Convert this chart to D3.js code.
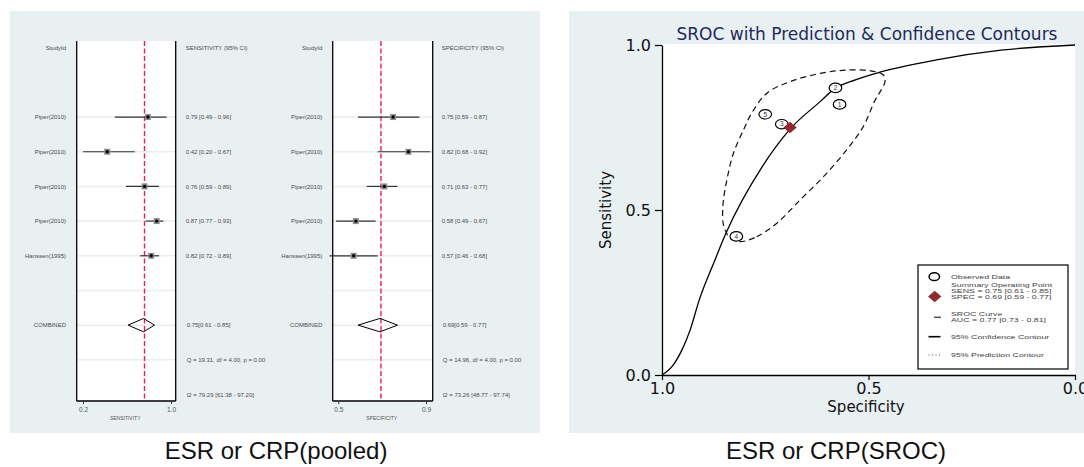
<!DOCTYPE html>
<html>
<head>
<meta charset="utf-8">
<script src="https://cdn.jsdelivr.net/npm/d3@7"></script>
<style>
body { margin: 0; background: #fff; }
svg { display: block; }
</style>
</head>
<body>
<svg id="canvas" width="1084" height="467"></svg>
<script>
// Datos del forest plot
const estudios = ["Piper(2010)", "Piper(2010)", "Piper(2010)", "Piper(2010)", "Hanssen(1995)"];
const sens = [0.79, 0.42, 0.76, 0.87, 0.82];
const sensInf = [0.49, 0.20, 0.59, 0.77, 0.72];
const sensSup = [0.96, 0.67, 0.89, 0.93, 0.89];
const espec = [0.75, 0.82, 0.71, 0.58, 0.57];
const especInf = [0.59, 0.68, 0.63, 0.49, 0.46];
const especSup = [0.87, 0.92, 0.77, 0.67, 0.68];
const sensGlobal = [0.75, 0.61, 0.85];
const especGlobal = [0.69, 0.59, 0.77];
const sensEstad = ["Q = 19.31, df = 4.00, p = 0.00", "I2 = 79.29 [61.38 - 97.20]"];
const especEstad = ["Q = 14.96, df = 4.00, p = 0.00", "I2 = 73.26 [48.77 - 97.74]"];
const sensTicks = [0.2, 1.0];
const especTicks = [0.5, 0.9];

// Datos del SROC
const etiquetasSroc = ["5", "4", "3", "2", "1"];
const curvaEspec = [1.0, 0.973, 0.948, 0.932, 0.91, 0.872, 0.845, 0.758, 0.69, 0.613, 0.586, 0.53, 0.468, 0.335, 0.174, 0.0];
const curvaSens = [0.0, 0.03, 0.086, 0.136, 0.227, 0.348, 0.43, 0.63, 0.745, 0.833, 0.864, 0.895, 0.919, 0.955, 0.985, 1.0];
const contornoEspec = [0.811, 0.771, 0.722, 0.666, 0.609, 0.553, 0.513, 0.484, 0.472, 0.46, 0.464, 0.496, 0.553, 0.617, 0.69, 0.746, 0.783, 0.803, 0.827, 0.843, 0.852, 0.852, 0.843, 0.835];
const contornoSens = [0.404, 0.419, 0.46, 0.53, 0.601, 0.682, 0.752, 0.833, 0.858, 0.889, 0.909, 0.922, 0.924, 0.914, 0.889, 0.854, 0.793, 0.742, 0.672, 0.591, 0.52, 0.46, 0.429, 0.414];
const rocTicks = [0, 0.5, 1];
const leyenda = [
    { tipo: "circulo", lineas: ["Observed Data"] },
    { tipo: "diamante", lineas: ["Summary Operating Point", "SENS = 0.75 [0.61 - 0.85]", "SPEC = 0.69 [0.59 - 0.77]"] },
    { tipo: "curva", lineas: ["SROC Curve", "AUC = 0.77 [0.73 - 0.81]"] },
    { tipo: "confianza", lineas: ["95% Confidence Contour"] },
    { tipo: "prediccion", lineas: ["95% Prediction Contour"] }
];

const svg = d3.select("#canvas");
const fondo = "#e9f0f2";
const fmt = d3.format(".2f");
const fuenteChica = "'Liberation Sans', Arial, sans-serif";

// Paneles de fondo
svg.append("rect").attr("x", 10).attr("y", 11).attr("width", 530).attr("height", 422).attr("fill", fondo);
svg.append("rect").attr("x", 569).attr("y", 11).attr("width", 515).attr("height", 422).attr("fill", fondo);

// Filas del forest plot
const fila = d3.scaleLinear().domain([0, 10]).range([47.7, 394.5]);

function dibujarForest(cfg) {
    const g = svg.append("g");
    const x = d3.scaleLinear().domain(cfg.dominio).range(cfg.rango);
    const arriba = 41, abajo = 401;

    g.append("rect")
        .attr("x", cfg.cajaIzq).attr("y", arriba)
        .attr("width", cfg.cajaDer - cfg.cajaIzq).attr("height", abajo - arriba)
        .attr("fill", "#fff");

    // Líneas tenues de cada fila
    d3.range(2, 10).forEach(i => {
        g.append("line")
            .attr("x1", cfg.cajaIzq).attr("x2", cfg.cajaDer)
            .attr("y1", fila(i)).attr("y2", fila(i))
            .attr("stroke", "#e6eef0").attr("stroke-width", 1.5);
    });

    // Línea del estimador global
    g.append("line")
        .attr("x1", x(cfg.global[0]) + 1).attr("x2", x(cfg.global[0]) + 1)
        .attr("y1", arriba).attr("y2", abajo)
        .attr("stroke", "#ec1c5a").attr("stroke-width", 1.4)
        .attr("stroke-dasharray", "5,2.5");

    // Intervalos y marcadores
    cfg.est.forEach((v, i) => {
        const y = fila(i + 2);
        g.append("line")
            .attr("x1", x(cfg.inf[i])).attr("x2", x(cfg.sup[i]))
            .attr("y1", y).attr("y2", y)
            .attr("stroke", "#333").attr("stroke-width", 1.2);
        g.append("rect")
            .attr("x", x(v) - 3).attr("y", y - 3)
            .attr("width", 6).attr("height", 6)
            .attr("fill", "#8c8c8c");
        g.append("circle")
            .attr("cx", x(v)).attr("cy", y).attr("r", 1.7)
            .attr("fill", "#000");
    });

    // Diamante combinado
    const yc = fila(8);
    g.append("path")
        .attr("d", `M${x(cfg.global[1])},${yc} L${x(cfg.global[0])},${yc - 6.7} L${x(cfg.global[2])},${yc} L${x(cfg.global[0])},${yc + 6.7} Z`)
        .attr("fill", "none").attr("stroke", "#000").attr("stroke-width", 1);

    // Bordes de la caja
    [cfg.cajaIzq, cfg.cajaDer].forEach(bx => {
        g.append("line")
            .attr("x1", bx).attr("x2", bx).attr("y1", arriba).attr("y2", abajo)
            .attr("stroke", "#000").attr("stroke-width", 1.3);
    });
    g.append("line")
        .attr("x1", cfg.cajaIzq).attr("x2", cfg.cajaDer).attr("y1", abajo).attr("y2", abajo)
        .attr("stroke", "#000").attr("stroke-width", 1.3);

    // Eje inferior
    const eje = g.append("g")
        .attr("transform", `translate(0,${abajo})`)
        .call(d3.axisBottom(x).tickValues(cfg.ticks).tickFormat(d3.format(".1f")).tickSize(3).tickSizeOuter(0).tickPadding(3));
    eje.select(".domain").remove();
    eje.selectAll("line").attr("stroke", "#333");
    eje.selectAll("text").attr("font-family", fuenteChica).attr("font-size", 6.5).attr("fill", "#555");

    g.append("text")
        .attr("x", (cfg.cajaIzq + cfg.cajaDer) / 2 - 1).attr("y", 420)
        .attr("text-anchor", "middle")
        .attr("font-family", fuenteChica).attr("font-size", 5).attr("fill", "#555")
        .text(cfg.tituloEje);

    // Textos
    const texto = (tx, ty, t, anchor) => g.append("text")
        .attr("x", tx).attr("y", ty).attr("dy", "0.35em")
        .attr("text-anchor", anchor)
        .attr("font-family", fuenteChica).attr("font-size", 6).attr("fill", "#4a4a4a")
        .text(t);

    texto(cfg.etiquetaX, fila(0), "StudyId", "end");
    texto(cfg.textoX, fila(0), cfg.encabezado, "start");
    estudios.forEach((e, i) => {
        texto(cfg.etiquetaX, fila(i + 2), e, "end");
        texto(cfg.textoX, fila(i + 2), `${fmt(cfg.est[i])} [${fmt(cfg.inf[i])} - ${fmt(cfg.sup[i])}]`, "start");
    });
    texto(cfg.etiquetaX, fila(8), "COMBINED", "end");
    texto(cfg.textoX + 1, fila(8), `${fmt(cfg.global[0])}[${fmt(cfg.global[1])} - ${fmt(cfg.global[2])}]`, "start");
    texto(cfg.textoX + 1, fila(9), cfg.estad[0], "start");
    texto(cfg.textoX + 1, fila(10), cfg.estad[1], "start");
}

dibujarForest({
    dominio: [0.2, 1.0], rango: [83, 171], ticks: sensTicks,
    cajaIzq: 76.7, cajaDer: 175.7, etiquetaX: 66, textoX: 185.7,
    est: sens, inf: sensInf, sup: sensSup, global: sensGlobal, estad: sensEstad,
    encabezado: "SENSITIVITY (95% CI)", tituloEje: "SENSITIVITY"
});

dibujarForest({
    dominio: [0.5, 0.9], rango: [338.3, 426], ticks: especTicks,
    cajaIzq: 332.7, cajaDer: 432.7, etiquetaX: 322.3, textoX: 441.7,
    est: espec, inf: especInf, sup: especSup, global: especGlobal, estad: especEstad,
    encabezado: "SPECIFICITY (95% CI)", tituloEje: "SPECIFICITY"
});

// ---------- SROC ----------
const fuenteRoc = "'DejaVu Sans', sans-serif";
const xr = d3.scaleLinear().domain([1, 0]).range([662, 1075]);
const yr = d3.scaleLinear().domain([0, 1]).range([375, 45]);
const roc = svg.append("g");

roc.append("rect")
    .attr("x", xr(1)).attr("y", 44)
    .attr("width", xr(0) - xr(1)).attr("height", yr(0) - 44)
    .attr("fill", "#fff");

roc.append("text")
    .attr("x", 867).attr("y", 40)
    .attr("text-anchor", "middle")
    .attr("font-family", fuenteRoc).attr("font-size", 17).attr("fill", "#1e2a5c")
    .text("SROC with Prediction & Confidence Contours");

// Contorno de predicción (discontinuo)
const contorno = contornoEspec.map((e, i) => [xr(e), yr(contornoSens[i])]);
roc.append("path")
    .attr("d", d3.line().curve(d3.curveCatmullRomClosed.alpha(0.5))(contorno))
    .attr("fill", "none").attr("stroke", "#111").attr("stroke-width", 1.2)
    .attr("stroke-dasharray", "6,4");

// Curva SROC
const curva = curvaEspec.map((e, i) => [xr(e), yr(curvaSens[i])]);
roc.append("path")
    .attr("d", d3.line().curve(d3.curveMonotoneX)(curva))
    .attr("fill", "none").attr("stroke", "#000").attr("stroke-width", 1.3);

// Estudios observados
espec.forEach((e, i) => {
    roc.append("ellipse")
        .attr("cx", xr(e)).attr("cy", yr(sens[i]))
        .attr("rx", 6.3).attr("ry", 4.7)
        .attr("fill", "#fff").attr("stroke", "#000").attr("stroke-width", 1.2);
    roc.append("text")
        .attr("x", xr(e)).attr("y", yr(sens[i])).attr("dy", "0.35em")
        .attr("text-anchor", "middle")
        .attr("font-family", fuenteChica).attr("font-size", 6.5).attr("fill", "#333")
        .text(etiquetasSroc[i]);
});

// Punto resumen
const diamante = (cx, cy) => `M${cx - 6.7},${cy} L${cx},${cy - 5.8} L${cx + 6.7},${cy} L${cx},${cy + 5.8} Z`;
roc.append("path")
    .attr("d", diamante(xr(especGlobal[0]), yr(sensGlobal[0])))
    .attr("fill", "#8e2b30");

// Ejes
const ejeY = roc.append("g")
    .attr("transform", `translate(${xr(1)},0)`)
    .call(d3.axisLeft(yr).tickValues(rocTicks).tickFormat(d3.format(".1f")).tickSize(7).tickSizeOuter(0).tickPadding(4));
const ejeX = roc.append("g")
    .attr("transform", `translate(0,${yr(0)})`)
    .call(d3.axisBottom(xr).tickValues(rocTicks).tickFormat(d3.format(".1f")).tickSize(5).tickSizeOuter(0).tickPadding(4));
[ejeX, ejeY].forEach(e => {
    e.select(".domain").attr("stroke", "#000").attr("stroke-width", 1.3);
    e.selectAll("line").attr("stroke", "#000").attr("stroke-width", 1.2);
    e.selectAll("text").attr("font-family", fuenteRoc).attr("font-size", 16).attr("fill", "#111");
});
ejeX.selectAll("text").attr("dy", "0.6em");

roc.append("text")
    .attr("x", 866).attr("y", 412)
    .attr("text-anchor", "middle")
    .attr("font-family", fuenteRoc).attr("font-size", 15).attr("fill", "#111")
    .text("Specificity");
roc.append("text")
    .attr("transform", "translate(611,210) rotate(-90)")
    .attr("text-anchor", "middle")
    .attr("font-family", fuenteRoc).attr("font-size", 15).attr("fill", "#111")
    .text("Sensitivity");

// Leyenda
const ley = roc.append("g");
ley.append("rect")
    .attr("x", 918).attr("y", 265).attr("width", 150).attr("height", 104)
    .attr("fill", "#fff").attr("stroke", "#000").attr("stroke-width", 1.2);

const centrosLey = [276.7, 292, 317.3, 336.7, 355];
leyenda.forEach((item, k) => {
    const cy = centrosLey[k];
    if (item.tipo === "circulo") {
        ley.append("ellipse").attr("cx", 934.3).attr("cy", cy).attr("rx", 5.2).attr("ry", 3.9)
            .attr("fill", "#fff").attr("stroke", "#000").attr("stroke-width", 1.5);
    } else if (item.tipo === "diamante") {
        ley.append("path").attr("d", diamante(934.7, cy + 4.5)).attr("fill", "#8e2b30");
    } else if (item.tipo === "curva") {
        ley.append("line").attr("x1", 934).attr("x2", 941).attr("y1", cy).attr("y2", cy)
            .attr("stroke", "#555").attr("stroke-width", 1.5);
    } else if (item.tipo === "confianza") {
        ley.append("line").attr("x1", 928.5).attr("x2", 940.5).attr("y1", cy).attr("y2", cy)
            .attr("stroke", "#000").attr("stroke-width", 1.6);
    } else {
        ley.append("line").attr("x1", 928.5).attr("x2", 940.5).attr("y1", cy).attr("y2", cy)
            .attr("stroke", "#555").attr("stroke-width", 1).attr("stroke-dasharray", "1,2.5");
    }
    const n = item.lineas.length;
    const paso = 5.6;
    const inicio = cy - (n - 1) * paso / 2 + (item.tipo === "diamante" ? -1 : 0);
    item.lineas.forEach((t, j) => {
        ley.append("text")
            .attr("transform", `translate(951,${inicio + j * paso + 1.9}) scale(1,${n > 1 ? 0.55 : 0.68})`)
            .attr("font-family", fuenteChica).attr("font-size", 8.8).attr("fill", "#444")
            .text(t);
    });
});

// Pies de figura
const pie = (cx, t) => svg.append("text")
    .attr("x", cx).attr("y", 459)
    .attr("text-anchor", "middle")
    .attr("font-family", fuenteChica).attr("font-size", 24).attr("fill", "#111")
    .text(t);
pie(276, "ESR or CRP(pooled)");
pie(836, "ESR or CRP(SROC)");
</script>
</body>
</html>
